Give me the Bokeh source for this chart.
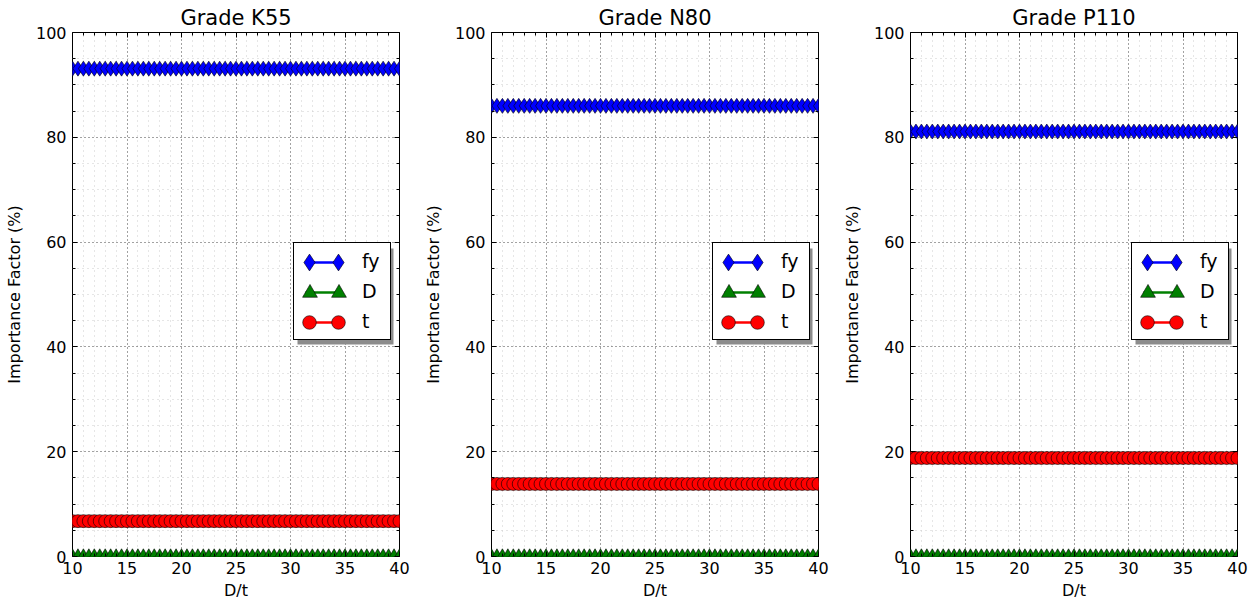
from bokeh.plotting import figure
from bokeh.models import (LinearAxis, Legend, LegendItem, BoxAnnotation,
                          Range1d, FixedTicker)
from bokeh.layouts import row
from bokeh.embed import file_html
from bokeh.resources import INLINE

# ---------------- data ----------------
dt = [10.0, 10.5, 11.0, 11.5, 12.0, 12.5, 13.0, 13.5, 14.0, 14.5, 15.0,
      15.5, 16.0, 16.5, 17.0, 17.5, 18.0, 18.5, 19.0, 19.5, 20.0, 20.5,
      21.0, 21.5, 22.0, 22.5, 23.0, 23.5, 24.0, 24.5, 25.0, 25.5, 26.0,
      26.5, 27.0, 27.5, 28.0, 28.5, 29.0, 29.5, 30.0, 30.5, 31.0, 31.5,
      32.0, 32.5, 33.0, 33.5, 34.0, 34.5, 35.0, 35.5, 36.0, 36.5, 37.0,
      37.5, 38.0, 38.5, 39.0, 39.5, 40.0]

grades = ["Grade K55", "Grade N80", "Grade P110"]
labels = ["fy", "D", "t"]

# importance factors (%) (flat over D/t)
fy_k55 = [93.1] * len(dt)
d_k55 = [0.15] * len(dt)
t_k55 = [6.75] * len(dt)

fy_n80 = [86.0] * len(dt)
d_n80 = [0.15] * len(dt)
t_n80 = [13.85] * len(dt)

fy_p110 = [81.1] * len(dt)
d_p110 = [0.15] * len(dt)
t_p110 = [18.8] * len(dt)

series = [(fy_k55, d_k55, t_k55), (fy_n80, d_n80, t_n80), (fy_p110, d_p110, t_p110)]

x_major = [10, 15, 20, 25, 30, 35, 40]
x_minor = [v for v in range(10, 41) if v % 5 != 0]
y_major = [0, 20, 40, 60, 80, 100]
y_minor = [v for v in range(0, 101, 5) if v % 20 != 0]

FONT = "DejaVu Sans"


def style_axis(ax, ticker, with_labels):
    ax.ticker = ticker
    ax.axis_line_color = None
    ax.major_tick_in = 5
    ax.major_tick_out = 0
    ax.minor_tick_in = 3
    ax.minor_tick_out = 0
    ax.major_tick_line_color = "black"
    ax.minor_tick_line_color = "black"
    if with_labels:
        ax.major_label_text_font = FONT
        ax.major_label_text_font_size = "16px"
        ax.major_label_text_color = "black"
        ax.axis_label_text_font = FONT
        ax.axis_label_text_font_size = "16px"
        ax.axis_label_text_font_style = "normal"
        ax.axis_label_text_color = "black"
    else:
        ax.major_label_text_font_size = "1px"
        ax.major_label_text_color = None
        ax.major_label_standoff = 0


def panel(title, fy, d, t, width, border_right):
    p = figure(width=width, height=604, x_range=Range1d(10, 40),
               y_range=Range1d(0, 100), output_backend="svg",
               toolbar_location=None, min_border_left=72,
               min_border_right=border_right, min_border_top=32,
               min_border_bottom=48, title=title)
    p.title.align = "center"
    p.title.text_font = FONT
    p.title.text_font_size = "21px"
    p.title.text_font_style = "normal"
    p.title.text_color = "black"
    p.title.standoff = 5
    p.outline_line_color = "black"
    p.outline_line_width = 1
    p.background_fill_color = "white"
    p.border_fill_color = "white"

    style_axis(p.xaxis[0], FixedTicker(ticks=x_major, minor_ticks=x_minor), True)
    style_axis(p.yaxis[0], FixedTicker(ticks=y_major, minor_ticks=y_minor), True)
    p.xaxis[0].axis_label = "D/t"
    p.yaxis[0].axis_label = "Importance Factor (%)"
    p.xaxis[0].major_label_standoff = 5
    p.xaxis[0].axis_label_standoff = 4
    p.yaxis[0].major_label_standoff = 6
    p.yaxis[0].axis_label_standoff = 9

    top = LinearAxis()
    style_axis(top, FixedTicker(ticks=x_major, minor_ticks=x_minor), False)
    right = LinearAxis()
    style_axis(right, FixedTicker(ticks=y_major, minor_ticks=y_minor), False)
    p.add_layout(top, "above")
    p.add_layout(right, "right")

    p.xgrid[0].ticker = FixedTicker(ticks=x_major, minor_ticks=x_minor)
    p.ygrid[0].ticker = FixedTicker(ticks=y_major, minor_ticks=y_minor)
    for g in (p.xgrid[0], p.ygrid[0]):
        g.grid_line_color = "#444444"
        g.grid_line_alpha = 1.0
        g.grid_line_dash = "1 3"
        g.grid_line_width = 1
        g.minor_grid_line_color = "#cdcdcd"
        g.minor_grid_line_dash = "1 4"
        g.minor_grid_line_width = 1

    colors = ["blue", "green", "red"]
    markers = ["diamond", "triangle", "circle"]
    sizes = [15, 12, 13]
    legend_G = [42, 37, 34]          # legend glyph box -> marker size 0.4*G
    ys = [fy, d, t]

    lines, scatters, ghosts = [], [], []
    for yv, c, m, s in zip(ys, colors, markers, sizes):
        lines.append(p.line(dt, yv, line_color=c, line_width=2.5))
        scatters.append(p.scatter(dt, yv, marker=m, size=s, fill_color=c,
                                  line_color="black", line_width=0.6))
        ghosts.append(p.line(dt, yv, line_color=c, line_alpha=0.0))

    # legend shadow (screen units, relative to frame bottom-left)
    shadow = BoxAnnotation(left=225, right=321, bottom=212, top=308,
                           left_units="screen", right_units="screen",
                           bottom_units="screen", top_units="screen",
                           fill_color="#8c8c8c", fill_alpha=1.0,
                           line_color=None, level="annotation")
    p.add_layout(shadow)

    # base legend: box and labels
    base = Legend(items=[LegendItem(label=lab, renderers=[gr])
                         for lab, gr in zip(labels, ghosts)],
                  location=(221, 216), orientation="vertical",
                  padding=3, spacing=0, margin=0,
                  glyph_width=44, glyph_height=30, label_height=30,
                  label_width=25, label_standoff=21,
                  label_text_font=FONT, label_text_font_size="19px",
                  label_text_color="black",
                  border_line_color="black", border_line_width=1,
                  border_line_alpha=1.0,
                  background_fill_color="white", background_fill_alpha=1.0)
    p.add_layout(base)

    # handle lines
    line_leg = Legend(items=[LegendItem(label=" ", renderers=[lr]) for lr in lines],
                      location=(233, 219), orientation="vertical",
                      padding=0, spacing=0, margin=0,
                      glyph_width=35, glyph_height=30, label_height=0,
                      label_width=0, label_standoff=0,
                      label_text_font_size="1px",
                      border_line_color=None, background_fill_alpha=0.0)
    p.add_layout(line_leg)

    # end markers of each legend handle
    row_centers = [294, 264, 234]
    for sc, G, rc in zip(scatters, legend_G, row_centers):
        for cx in (237, 266):
            mk = Legend(items=[LegendItem(label=" ", renderers=[sc])],
                        location=(cx - G / 2, rc - G / 2), orientation="vertical",
                        padding=0, spacing=0, margin=0,
                        glyph_width=G, glyph_height=G, label_height=0,
                        label_width=0, label_standoff=0,
                        label_text_font_size="1px",
                        border_line_color=None, background_fill_alpha=0.0)
            p.add_layout(mk)
    return p


widths = [419, 419, 417]
rights = [20, 20, 18]
figs = [panel(grades[i], *series[i], widths[i], rights[i]) for i in range(3)]
layout = row(*figs)

open("out.html", "w").write(file_html(layout, INLINE))
